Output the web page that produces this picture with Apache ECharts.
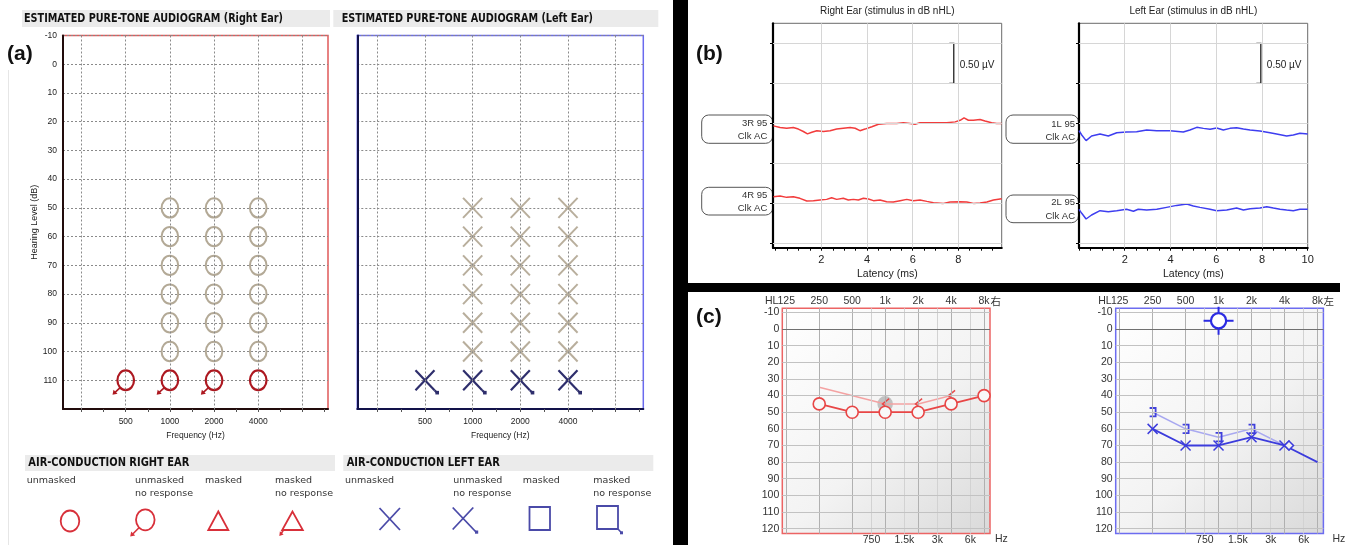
<!DOCTYPE html>
<html>
<head>
<meta charset="utf-8">
<title>Audiograms and ABR</title>
<script src="https://cdn.jsdelivr.net/npm/echarts@6.0.0/dist/echarts.min.js"></script>
<style>
html, body { margin:0; padding:0; background:#fff; }
#chart { width:1348px; height:545px; }
</style>
</head>
<body>
<div id="chart"></div>
<script>
// ================= DATA =================
// (a) Estimated pure-tone audiogram
const aGridFreqs = [250, 500, 1000, 2000, 4000, 8000];
const aTickFreqs = [500, 1000, 2000, 4000];
const aTickLabels = ['500', '1000', '2000', '4000'];
const aAxisTickOct = [0, 0.5, 1, 1.5, 2, 2.5, 3, 3.5, 4, 4.5, 5, 5.5];
const aEstFreqsR = [1000, 2000, 4000];
const aEstLevelsR = [50, 60, 70, 80, 90, 100];
const aEstFreqsL = [1000, 2000, 4000];
const aEstLevelsL = [50, 60, 70, 80, 90, 100];
const aNRFreqsR = [500, 1000, 2000, 4000];
const aNRLevelsR = [110, 110, 110, 110];
const aNRArrowR = [1, 1, 1, 0];
const aNRFreqsL = [500, 1000, 2000, 4000];
const aNRLevelsL = [110, 110, 110, 110];
const aNRArrowL = [1, 1, 1, 1];

// (b) ABR traces (latency ms, amplitude µV as displayed)
const r3Lat = [-0.10,0.19,0.48,0.77,0.99,1.21,1.39,1.58,1.80,2.09,2.38,2.67,2.96,3.26,3.48,3.69,3.91,4.21,4.50,4.86,5.30,5.59,5.89,6.10,6.32,6.69,7.05,7.49,7.86,8.08,8.25,8.44,8.66,8.95,9.17,9.46,9.68,9.90];
const r3Amp = [1.47,1.45,1.44,1.45,1.43,1.40,1.37,1.39,1.41,1.40,1.41,1.43,1.44,1.45,1.44,1.41,1.43,1.46,1.49,1.50,1.50,1.51,1.50,1.49,1.51,1.51,1.51,1.51,1.52,1.54,1.57,1.54,1.54,1.55,1.53,1.51,1.50,1.50];
const r4Lat = [-0.10,0.19,0.48,0.77,1.06,1.36,1.65,1.94,2.23,2.45,2.67,2.96,3.18,3.40,3.62,3.84,4.06,4.28,4.57,4.86,5.15,5.45,5.74,6.03,6.32,6.62,6.91,7.35,7.64,8.08,8.37,8.66,8.95,9.25,9.54,9.90];
const r4Amp = [0.587,0.595,0.578,0.587,0.566,0.533,0.537,0.545,0.553,0.574,0.553,0.566,0.545,0.553,0.545,0.566,0.558,0.537,0.545,0.524,0.520,0.537,0.553,0.537,0.545,0.528,0.512,0.503,0.520,0.524,0.520,0.503,0.508,0.520,0.545,0.562];
const l1Lat = [0.00,0.12,0.31,0.55,0.92,1.28,1.65,2.08,2.52,2.96,3.40,3.98,4.56,4.85,5.15,5.44,5.73,6.02,6.31,6.60,6.89,7.19,7.48,7.91,8.35,8.64,9.08,9.37,9.66,10.00];
const l1Amp = [1.410,1.356,1.286,1.344,1.369,1.344,1.385,1.394,1.398,1.419,1.410,1.410,1.394,1.419,1.452,1.439,1.427,1.444,1.419,1.439,1.448,1.431,1.419,1.406,1.385,1.369,1.344,1.356,1.377,1.369];
const l2Lat = [0.00,0.12,0.31,0.55,0.92,1.28,1.65,2.08,2.38,2.59,2.96,3.40,3.83,4.27,4.71,5.00,5.29,5.73,6.02,6.46,6.89,7.19,7.48,7.91,8.21,8.50,8.79,9.08,9.37,9.66,10.00];
const l2Amp = [0.429,0.379,0.308,0.358,0.412,0.399,0.412,0.429,0.404,0.429,0.420,0.429,0.453,0.478,0.495,0.470,0.453,0.429,0.412,0.420,0.445,0.420,0.437,0.445,0.462,0.445,0.429,0.420,0.412,0.429,0.429];
const bTraceNames = ['3R 95', '4R 95', '1L 95', '2L 95'];
const bStimulus = 'Clk AC';
const bGridY = [0, 0.5, 1.0, 1.5, 2.0, 2.5];
const bGridX = [2, 4, 6, 8];
const bLabelsR = [2, 4, 6, 8];
const bLabelsL = [2, 4, 6, 8, 10];
const bTicksR = [0,0.5,1,1.5,2,2.5,3,3.5,4,4.5,5,5.5,6,6.5,7,7.5,8,8.5,9,9.5];
const bTicksL = [0,0.5,1,1.5,2,2.5,3,3.5,4,4.5,5,5.5,6,6.5,7,7.5,8,8.5,9,9.5,10];
const bScaleR = [[7.8, 2.0, 2.5]];
const bScaleL = [[7.95, 2.0, 2.5]];
const bScaleText = '0.50 µV';

// (c) Audiometer
const cGridOct = [125, 250, 500, 1000, 2000, 4000, 8000];
const cGridHalf = [750, 1500, 3000, 6000];
const cGridLevels = [-10, 10, 20, 30, 40, 50, 60, 70, 80, 90, 100, 110, 120];
const cZeroLevel = [0];
const cLevelTicks = [-10, 0, 10, 20, 30, 40, 50, 60, 70, 80, 90, 100, 110, 120];
const cTopFreqs = [125, 250, 500, 1000, 2000, 4000, 8000];
const cTopLabels = ['125', '250', '500', '1k', '2k', '4k', '8k'];
const cBotFreqs = [750, 1500, 3000, 6000];
const cBotLabels = ['750', '1.5k', '3k', '6k'];
const cACFreqsR = [250, 500, 1000, 2000, 4000, 8000];
const cACLevelsR = [45, 50, 50, 50, 45, 40];
const cBCFreqsR = [250, 1000, 2000, 4000];
const cBCLevelsR = [35, 45, 45, 40];
const cBCMarkR = [0, 1, 1, 1];
const cHighlightR = [[1000, 45]];
const cACFreqsL = [250, 500, 1000, 2000, 4000, 8000];
const cACLevelsL = [60, 70, 70, 65, 70, 80];
const cACMarkL = [1, 1, 1, 1, 1, 0];
const cMBCFreqsL = [250, 500, 1000, 2000, 4000];
const cMBCLevelsL = [50, 60, 65, 60, 70];
const cMBCMarkL = [1, 1, 1, 1, 0];
const cDiamondL = [[4000, 70]];
const cSoundFieldL = [[1000, -5]];

// ================= HELPERS =================
const octA = f => Math.log2(f / 250);
const octC = f => Math.log2(f / 125);
const LIB = '"Liberation Sans", Arial, sans-serif';
const DJV = '"DejaVu Sans", Verdana, sans-serif';
const CJK = '"Noto Sans CJK JP", sans-serif';

function gridLineSeries(xi, yi, items, z) {
  return { type: 'line', xAxisIndex: xi, yAxisIndex: yi, data: [], silent: true, z: z || 1,
    markLine: { silent: true, symbol: ['none', 'none'], label: { show: false }, animation: false,
      emphasis: { disabled: true }, data: items } };
}
function ellipseMark(color, lw, rx, ry) {
  return function (params, api) {
    const p = api.coord([api.value(0), api.value(1)]);
    const kids = [{ type: 'ellipse', shape: { cx: p[0], cy: p[1], rx: rx, ry: ry }, style: { fill: 'none', stroke: color, lineWidth: lw } }];
    if (api.value(2)) {
      const tx = p[0] - 13.2, ty = p[1] + 14.6;
      kids.push({ type: 'line', shape: { x1: p[0] - 5.8, y1: p[1] + 7.6, x2: tx + 2.5, y2: ty - 2.5 }, style: { stroke: color, lineWidth: 1.6 } });
      kids.push({ type: 'polygon', shape: { points: [[tx, ty], [tx + 1.0, ty - 5.0], [tx + 5.0, ty - 1.0]] }, style: { fill: color } });
    }
    return { type: 'group', children: kids };
  };
}
function xMark(color, lw, hw, hh) {
  return function (params, api) {
    const p = api.coord([api.value(0), api.value(1)]);
    const kids = [
      { type: 'line', shape: { x1: p[0] - hw, y1: p[1] - hh, x2: p[0] + hw, y2: p[1] + hh }, style: { stroke: color, lineWidth: lw } },
      { type: 'line', shape: { x1: p[0] + hw, y1: p[1] - hh, x2: p[0] - hw, y2: p[1] + hh }, style: { stroke: color, lineWidth: lw } }
    ];
    if (api.value(2)) {
      kids.push({ type: 'line', shape: { x1: p[0] + hw, y1: p[1] + hh, x2: p[0] + 12, y2: p[1] + 12.3 }, style: { stroke: color, lineWidth: lw } });
      kids.push({ type: 'rect', shape: { x: p[0] + 10.4, y: p[1] + 10.6, width: 3.6, height: 3.6 }, style: { fill: color } });
    }
    return { type: 'group', children: kids };
  };
}
function scaleBar(params, api) {
  const t = api.coord([api.value(0), api.value(2)]);
  const b = api.coord([api.value(0), api.value(1)]);
  return { type: 'group', children: [
    { type: 'polyline', shape: { points: [[t[0] - 4.5, t[1]], [t[0], t[1]], [b[0], b[1]], [b[0] - 4.5, b[1]]] }, style: { fill: 'none', stroke: '#222', lineWidth: 1.3 } },
    { type: 'text', x: t[0] + 6, y: (t[1] + b[1]) / 2 + 2, style: { text: bScaleText, fill: '#222', font: '10px ' + LIB, align: 'left', verticalAlign: 'middle' } }
  ] };
}
function ltMark(color) {
  return function (params, api) {
    if (!api.value(2)) return { type: 'group', children: [] };
    const p = api.coord([api.value(0), api.value(1)]);
    return { type: 'polyline', shape: { points: [[p[0] + 4, p[1] - 5.2], [p[0] - 2.6, p[1]], [p[0] + 4, p[1] + 5.2]] }, style: { fill: 'none', stroke: color, lineWidth: 1.5 } };
  };
}
function bracketMark(color) {
  return function (params, api) {
    if (!api.value(2)) return { type: 'group', children: [] };
    const p = api.coord([api.value(0), api.value(1)]);
    return { type: 'polyline', shape: { points: [[p[0] - 3, p[1] - 4.2], [p[0] + 3, p[1] - 4.2], [p[0] + 3, p[1] + 4.2], [p[0] - 3, p[1] + 4.2]] }, style: { fill: 'none', stroke: color, lineWidth: 1.8 } };
  };
}
function smallX(color) {
  return function (params, api) {
    if (!api.value(2)) return { type: 'group', children: [] };
    const p = api.coord([api.value(0), api.value(1)]);
    const h = 5;
    return { type: 'group', children: [
      { type: 'line', shape: { x1: p[0] - h, y1: p[1] - h, x2: p[0] + h, y2: p[1] + h }, style: { stroke: color, lineWidth: 1.5 } },
      { type: 'line', shape: { x1: p[0] + h, y1: p[1] - h, x2: p[0] - h, y2: p[1] + h }, style: { stroke: color, lineWidth: 1.5 } }
    ] };
  };
}
function diamondMark(params, api) {
  const p = api.coord([api.value(0), api.value(1)]);
  const cx = p[0] + 4.5, cy = p[1];
  return { type: 'polygon', shape: { points: [[cx, cy - 4.5], [cx + 4.5, cy], [cx, cy + 4.5], [cx - 4.5, cy]] }, style: { fill: '#f2f2f2', stroke: '#3c3cdc', lineWidth: 1.5 } };
}
function crossCircle(params, api) {
  const p = api.coord([api.value(0), api.value(1)]);
  const c = '#2b2be2', s = { stroke: c, lineWidth: 2 };
  return { type: 'group', children: [
    { type: 'circle', shape: { cx: p[0], cy: p[1], r: 7.6 }, style: { fill: '#ffffff', stroke: c, lineWidth: 2.2 } },
    { type: 'line', shape: { x1: p[0], y1: p[1] - 7.6, x2: p[0], y2: p[1] - 14 }, style: s },
    { type: 'line', shape: { x1: p[0], y1: p[1] + 7.6, x2: p[0], y2: p[1] + 14 }, style: s },
    { type: 'line', shape: { x1: p[0] - 7.6, y1: p[1], x2: p[0] - 15, y2: p[1] }, style: s },
    { type: 'line', shape: { x1: p[0] + 7.6, y1: p[1], x2: p[0] + 15, y2: p[1] }, style: s }
  ] };
}
function grayDot(params, api) {
  const p = api.coord([api.value(0), api.value(1)]);
  return { type: 'circle', shape: { cx: p[0], cy: p[1], r: 7.8 }, style: { fill: 'rgba(165,165,165,0.65)' } };
}
function labelFrom(freqs, labels, conv) {
  return function (v) {
    const i = freqs.findIndex(f => Math.abs(conv(f) - v) < 1e-6);
    return i >= 0 ? labels[i] : '';
  };
}

// ================= AXES =================
const aX = (gi, lineColor) => ({
  gridIndex: gi, type: 'value', min: -0.42, max: 5.58,
  axisLine: { show: true, onZero: false, lineStyle: { color: lineColor, width: 2 } },
  axisTick: { show: true, customValues: aAxisTickOct, length: 3, lineStyle: { color: '#555', width: 1 } },
  axisLabel: { show: true, customValues: aTickFreqs.map(octA), formatter: labelFrom(aTickFreqs, aTickLabels, octA), margin: 8, fontSize: 8.5, color: '#222', fontFamily: LIB },
  splitLine: { show: false },
  name: 'Frequency (Hz)', nameLocation: 'middle', nameGap: 21, nameTextStyle: { fontSize: 8.5, color: '#222', fontFamily: LIB }
});
const aY = (gi, lineColor, showLabels) => ({
  gridIndex: gi, type: 'value', min: -10, max: 120, interval: 10, inverse: true,
  axisLine: { show: true, onZero: false, lineStyle: { color: lineColor, width: 2 } },
  axisTick: { show: false },
  axisLabel: { show: showLabels, formatter: v => (v === 120 ? '' : String(v)), margin: 6, fontSize: 8.5, color: '#222', fontFamily: LIB },
  splitLine: { show: true, lineStyle: { color: '#8a8a8a', type: [2, 2], width: 1 } },
  name: showLabels ? 'Hearing Level (dB)' : '', nameLocation: 'middle', nameGap: 17, nameRotate: 90,
  nameTextStyle: { fontSize: 9, color: '#222', fontFamily: LIB }
});
const bX = (gi, min, max, labels, ticks) => ({
  gridIndex: gi, type: 'value', min: min, max: max,
  axisLine: { show: true, onZero: false, lineStyle: { color: '#000', width: 2.2 } },
  axisTick: { show: true, customValues: ticks, length: 3, lineStyle: { color: '#000', width: 1 } },
  axisLabel: { show: true, customValues: labels, margin: 7, fontSize: 11, color: '#222', fontFamily: LIB },
  splitLine: { show: false },
  name: 'Latency (ms)', nameLocation: 'middle', nameGap: 21, nameTextStyle: { fontSize: 10.5, color: '#222', fontFamily: LIB }
});
const bY = gi => ({
  gridIndex: gi, type: 'value', min: -0.05, max: 2.75,
  axisLine: { show: true, onZero: false, lineStyle: { color: '#000', width: 2.2 } },
  axisTick: { show: true, customValues: bGridY, length: 3, lineStyle: { color: '#000', width: 1 } },
  axisLabel: { show: false }, splitLine: { show: false }
});
const cXBottom = gi => ({
  gridIndex: gi, type: 'value', min: -0.12, max: 6.18, position: 'bottom',
  axisLine: { show: false, onZero: false }, axisTick: { show: false }, splitLine: { show: false },
  axisLabel: { show: true, customValues: cBotFreqs.map(octC), formatter: labelFrom(cBotFreqs, cBotLabels, octC), margin: 1, fontSize: 10.5, color: '#333', fontFamily: LIB }
});
const cXTop = gi => ({
  gridIndex: gi, type: 'value', min: -0.12, max: 6.18, position: 'top',
  axisLine: { show: false, onZero: false }, axisTick: { show: false }, splitLine: { show: false },
  axisLabel: { show: true, customValues: cTopFreqs.map(octC), formatter: labelFrom(cTopFreqs, cTopLabels, octC), margin: 2, fontSize: 10.5, color: '#333', fontFamily: LIB }
});
const cY = gi => ({
  gridIndex: gi, type: 'value', min: -12.5, max: 123, inverse: true,
  axisLine: { show: false, onZero: false }, axisTick: { show: false }, splitLine: { show: false },
  axisLabel: { show: true, customValues: cLevelTicks, margin: 3, fontSize: 10.5, color: '#333', fontFamily: LIB }
});

const cBg = { type: 'linear', x: 0, y: 0, x2: 1, y2: 1, colorStops: [{ offset: 0, color: '#ffffff' }, { offset: 0.55, color: '#f3f3f3' }, { offset: 1, color: '#d9d9d9' }] };

// ================= GRAPHICS (static frame / annotations) =================
const RED = '#d8303a', BLUE = '#4a4aa8';
const graphics = [];
function T(x, y, text, font, fill, align, extra) {
  graphics.push(Object.assign({ type: 'text', x: x, y: y, silent: true, style: { text: text, font: font, fill: fill || '#222', align: align || 'left', verticalAlign: 'middle' } }, extra || {}));
}
function G(el) { el.silent = true; graphics.push(el); }
// separators
G({ type: 'rect', shape: { x: 673, y: 0, width: 15, height: 545 }, style: { fill: '#000' } });
G({ type: 'rect', shape: { x: 688, y: 283, width: 652, height: 9 }, style: { fill: '#000' } });
G({ type: 'rect', shape: { x: 8, y: 70, width: 1, height: 475 }, style: { fill: '#e6e6e6' } });
// panel letters
T(7, 54, '(a)', 'bold 21px ' + LIB, '#111');
T(696, 54, '(b)', 'bold 21px ' + LIB, '#111');
T(696, 317, '(c)', 'bold 21px ' + LIB, '#111');
// (a) title bars
G({ type: 'rect', shape: { x: 22, y: 10, width: 308, height: 17 }, style: { fill: '#ebebeb' } });
G({ type: 'rect', shape: { x: 333.3, y: 10, width: 325, height: 17 }, style: { fill: '#ebebeb' } });
T(24, 18.7, 'ESTIMATED PURE-TONE AUDIOGRAM (Right Ear)', 'bold 11.5px ' + DJV, '#111', 'left', { scaleX: 0.84 });
T(341.7, 18.7, 'ESTIMATED PURE-TONE AUDIOGRAM (Left Ear)', 'bold 11.5px ' + DJV, '#111', 'left', { scaleX: 0.84 });
// legend bars
G({ type: 'rect', shape: { x: 25, y: 455, width: 310, height: 16 }, style: { fill: '#ebebeb' } });
G({ type: 'rect', shape: { x: 343.3, y: 455, width: 310, height: 16 }, style: { fill: '#ebebeb' } });
T(28.3, 463.5, 'AIR-CONDUCTION RIGHT EAR', 'bold 11.5px ' + DJV, '#111', 'left', { scaleX: 0.86 });
T(346.7, 463.5, 'AIR-CONDUCTION LEFT EAR', 'bold 11.5px ' + DJV, '#111', 'left', { scaleX: 0.86 });
const LF = '9.5px ' + DJV;
T(26.7, 480.5, 'unmasked', LF, '#333'); T(135, 480.5, 'unmasked', LF, '#333'); T(135, 493.8, 'no response', LF, '#333');
T(205, 480.5, 'masked', LF, '#333'); T(275, 480.5, 'masked', LF, '#333'); T(275, 493.8, 'no response', LF, '#333');
T(345, 480.5, 'unmasked', LF, '#333'); T(453.3, 480.5, 'unmasked', LF, '#333'); T(453.3, 493.8, 'no response', LF, '#333');
T(522.7, 480.5, 'masked', LF, '#333'); T(593.3, 480.5, 'masked', LF, '#333'); T(593.3, 493.8, 'no response', LF, '#333');
// legend symbols (right ear, red)
const rs = { fill: 'none', stroke: RED, lineWidth: 1.8 };
G({ type: 'ellipse', shape: { cx: 70, cy: 521, rx: 9.3, ry: 10.5 }, style: rs });
G({ type: 'ellipse', shape: { cx: 145.3, cy: 519.8, rx: 9.3, ry: 10.5 }, style: rs });
G({ type: 'line', shape: { x1: 139, y1: 527.8, x2: 133, y2: 533.8 }, style: { stroke: RED, lineWidth: 1.6 } });
G({ type: 'polygon', shape: { points: [[130.2, 536.6], [131.2, 531.6], [135.2, 535.6]] }, style: { fill: RED } });
G({ type: 'polygon', shape: { points: [[218.3, 511.5], [208.3, 530], [228.3, 530]] }, style: rs });
G({ type: 'polygon', shape: { points: [[292.5, 511.5], [282.2, 530], [302.8, 530]] }, style: rs });
G({ type: 'line', shape: { x1: 283.5, y1: 530, x2: 281.3, y2: 533.4 }, style: { stroke: RED, lineWidth: 1.6 } });
G({ type: 'polygon', shape: { points: [[279.3, 536], [279.9, 531.3], [283.6, 534.4]] }, style: { fill: RED } });
// legend symbols (left ear, blue)
const bs = { stroke: BLUE, lineWidth: 1.8 };
G({ type: 'line', shape: { x1: 379.5, y1: 508, x2: 400, y2: 530 }, style: bs });
G({ type: 'line', shape: { x1: 400, y1: 508, x2: 379.5, y2: 530 }, style: bs });
G({ type: 'line', shape: { x1: 452.7, y1: 507.5, x2: 476, y2: 532 }, style: bs });
G({ type: 'line', shape: { x1: 473.3, y1: 507.5, x2: 452.7, y2: 529.5 }, style: bs });
G({ type: 'rect', shape: { x: 475, y: 530.5, width: 3.2, height: 3.2 }, style: { fill: BLUE } });
G({ type: 'rect', shape: { x: 529.5, y: 507, width: 20.5, height: 23 }, style: { fill: 'none', stroke: BLUE, lineWidth: 1.8 } });
G({ type: 'rect', shape: { x: 597, y: 506, width: 21, height: 23 }, style: { fill: 'none', stroke: BLUE, lineWidth: 1.8 } });
G({ type: 'line', shape: { x1: 618, y1: 529, x2: 621, y2: 532.3 }, style: { stroke: BLUE, lineWidth: 1.5 } });
G({ type: 'rect', shape: { x: 620, y: 531.3, width: 3, height: 3 }, style: { fill: BLUE } });
// (b) titles
T(887.3, 11, 'Right Ear (stimulus in dB nHL)', '10px ' + LIB, '#222', 'center');
T(1193.3, 11, 'Left Ear (stimulus in dB nHL)', '10px ' + LIB, '#222', 'center');
// (b) trace label boxes
const boxStyle = { fill: '#ffffff', stroke: '#555', lineWidth: 1 };
G({ type: 'rect', shape: { x: 701.7, y: 115, width: 71, height: 28.3, r: 7 }, style: boxStyle });
G({ type: 'rect', shape: { x: 701.7, y: 187.3, width: 71, height: 27.7, r: 7 }, style: boxStyle });
G({ type: 'rect', shape: { x: 1006, y: 115, width: 72.5, height: 28.3, r: 7 }, style: boxStyle });
G({ type: 'rect', shape: { x: 1006, y: 195, width: 72.5, height: 27.7, r: 7 }, style: boxStyle });
const BF = '9.5px ' + LIB;
T(767.3, 123.3, bTraceNames[0], BF, '#333', 'right'); T(767.3, 136.7, bStimulus, BF, '#333', 'right');
T(767.3, 195.3, bTraceNames[1], BF, '#333', 'right'); T(767.3, 208.5, bStimulus, BF, '#333', 'right');
T(1075, 124, bTraceNames[2], BF, '#333', 'right'); T(1075, 137.3, bStimulus, BF, '#333', 'right');
T(1075, 202.7, bTraceNames[3], BF, '#333', 'right'); T(1075, 216, bStimulus, BF, '#333', 'right');
// (c) extra axis text
T(778.3, 300.7, 'HL', '10.5px ' + LIB, '#333', 'right');
T(1111.7, 300.7, 'HL', '10.5px ' + LIB, '#333', 'right');
T(990.5, 300.7, '右', '10.5px ' + CJK, '#333', 'left');
T(1323.5, 300.7, '左', '10.5px ' + CJK, '#333', 'left');
T(995, 539.3, 'Hz', '10.5px ' + LIB, '#333', 'left');
T(1332.5, 539.3, 'Hz', '10.5px ' + LIB, '#333', 'left');

// ================= SERIES =================
const dotted = { color: '#8a8a8a', type: [2, 2], width: 1 };
const bGridStyle = { color: '#d6d6d6', type: 'solid', width: 1 };
const cOctStyle = { color: '#b0b0b0', type: 'solid', width: 1 };
const cHalfStyle = { color: '#d2d2d2', type: 'solid', width: 1 };
const cHStyle = { color: '#c2c2c2', type: 'solid', width: 1 };
const cZeroStyle = { color: '#707070', type: 'solid', width: 1 };
function cGridItems() {
  return [].concat(
    cGridOct.map(f => ({ xAxis: octC(f), lineStyle: cOctStyle })),
    cGridHalf.map(f => ({ xAxis: octC(f), lineStyle: cHalfStyle })),
    cGridLevels.map(l => ({ yAxis: l, lineStyle: cHStyle })),
    cZeroLevel.map(l => ({ yAxis: l, lineStyle: cZeroStyle }))
  );
}
const zip = (xs, ys) => xs.map((x, i) => [x, ys[i]]);

const series = [
  // ---- (a) right ear ----
  gridLineSeries(0, 0, aGridFreqs.map(f => ({ xAxis: octA(f), lineStyle: dotted }))),
  { type: 'custom', xAxisIndex: 0, yAxisIndex: 0, z: 3, silent: true, renderItem: ellipseMark('#b3a996', 2, 8.3, 9.7),
    encode: { x: 0, y: 1 }, data: aEstFreqsR.flatMap(f => aEstLevelsR.map(l => [octA(f), l, 0])) },
  { type: 'custom', xAxisIndex: 0, yAxisIndex: 0, z: 4, silent: true, renderItem: ellipseMark('#ad1820', 2.2, 8.3, 9.8),
    encode: { x: 0, y: 1 }, data: aNRFreqsR.map((f, i) => [octA(f), aNRLevelsR[i], aNRArrowR[i]]) },
  // ---- (a) left ear ----
  gridLineSeries(1, 1, aGridFreqs.map(f => ({ xAxis: octA(f), lineStyle: dotted }))),
  { type: 'custom', xAxisIndex: 1, yAxisIndex: 1, z: 3, silent: true, renderItem: xMark('#b8ae9c', 2, 9.6, 10),
    encode: { x: 0, y: 1 }, data: aEstFreqsL.flatMap(f => aEstLevelsL.map(l => [octA(f), l, 0])) },
  { type: 'custom', xAxisIndex: 1, yAxisIndex: 1, z: 4, silent: true, renderItem: xMark('#2e2e6c', 2.2, 9.5, 10),
    encode: { x: 0, y: 1 }, data: aNRFreqsL.map((f, i) => [octA(f), aNRLevelsL[i], aNRArrowL[i]]) },
  // ---- (b) right ear ----
  gridLineSeries(2, 2, [].concat(bGridX.map(v => ({ xAxis: v, lineStyle: bGridStyle })), bGridY.map(v => ({ yAxis: v, lineStyle: bGridStyle })))),
  { type: 'line', xAxisIndex: 2, yAxisIndex: 2, z: 3, silent: true, symbol: 'none', showSymbol: false, data: zip(r3Lat, r3Amp), lineStyle: { color: '#f23c3c', width: 1.5 }, itemStyle: { color: '#f23c3c' } },
  { type: 'line', xAxisIndex: 2, yAxisIndex: 2, z: 3, silent: true, symbol: 'none', showSymbol: false, data: zip(r4Lat, r4Amp), lineStyle: { color: '#f23c3c', width: 1.5 }, itemStyle: { color: '#f23c3c' } },
  { type: 'custom', xAxisIndex: 2, yAxisIndex: 2, z: 4, silent: true, renderItem: scaleBar, encode: { x: 0, y: [1, 2] }, data: bScaleR },
  // ---- (b) left ear ----
  gridLineSeries(3, 3, [].concat(bGridX.map(v => ({ xAxis: v, lineStyle: bGridStyle })), bGridY.map(v => ({ yAxis: v, lineStyle: bGridStyle })))),
  { type: 'line', xAxisIndex: 3, yAxisIndex: 3, z: 3, silent: true, symbol: 'none', showSymbol: false, data: zip(l1Lat, l1Amp), lineStyle: { color: '#3e3ef0', width: 1.5 }, itemStyle: { color: '#3e3ef0' } },
  { type: 'line', xAxisIndex: 3, yAxisIndex: 3, z: 3, silent: true, symbol: 'none', showSymbol: false, data: zip(l2Lat, l2Amp), lineStyle: { color: '#3e3ef0', width: 1.5 }, itemStyle: { color: '#3e3ef0' } },
  { type: 'custom', xAxisIndex: 3, yAxisIndex: 3, z: 4, silent: true, renderItem: scaleBar, encode: { x: 0, y: [1, 2] }, data: bScaleL },
  // ---- (c) right ear ----
  gridLineSeries(4, 4, cGridItems()),
  { type: 'custom', xAxisIndex: 4, yAxisIndex: 4, z: 2, silent: true, renderItem: grayDot, encode: { x: 0, y: 1 }, data: cHighlightR.map(d => [octC(d[0]), d[1]]) },
  { type: 'line', xAxisIndex: 4, yAxisIndex: 4, z: 3, silent: true, symbol: 'none', showSymbol: false, data: cBCFreqsR.map((f, i) => [octC(f), cBCLevelsR[i]]), lineStyle: { color: '#f4a2a2', width: 1.5 }, itemStyle: { color: '#f4a2a2' } },
  { type: 'custom', xAxisIndex: 4, yAxisIndex: 4, z: 4, silent: true, renderItem: ltMark('#e64a4a'), encode: { x: 0, y: 1 }, data: cBCFreqsR.map((f, i) => [octC(f), cBCLevelsR[i], cBCMarkR[i]]) },
  { type: 'line', xAxisIndex: 4, yAxisIndex: 4, z: 5, silent: true, symbol: 'circle', symbolSize: 12, showSymbol: true,
    data: cACFreqsR.map((f, i) => [octC(f), cACLevelsR[i]]), lineStyle: { color: '#e84646', width: 1.8 },
    itemStyle: { color: '#f8f8f8', borderColor: '#e84646', borderWidth: 1.6 } },
  // ---- (c) left ear ----
  gridLineSeries(6, 5, cGridItems()),
  { type: 'line', xAxisIndex: 6, yAxisIndex: 5, z: 3, silent: true, symbol: 'none', showSymbol: false, data: cMBCFreqsL.map((f, i) => [octC(f), cMBCLevelsL[i]]), lineStyle: { color: '#a9a9f0', width: 1.5 }, itemStyle: { color: '#a9a9f0' } },
  { type: 'custom', xAxisIndex: 6, yAxisIndex: 5, z: 4, silent: true, renderItem: bracketMark('#4040dc'), encode: { x: 0, y: 1 }, data: cMBCFreqsL.map((f, i) => [octC(f), cMBCLevelsL[i], cMBCMarkL[i]]) },
  { type: 'line', xAxisIndex: 6, yAxisIndex: 5, z: 5, silent: true, symbol: 'none', showSymbol: false, data: cACFreqsL.map((f, i) => [octC(f), cACLevelsL[i]]), lineStyle: { color: '#3c3cdc', width: 1.8 }, itemStyle: { color: '#3c3cdc' } },
  { type: 'custom', xAxisIndex: 6, yAxisIndex: 5, z: 6, silent: true, renderItem: smallX('#3c3cdc'), encode: { x: 0, y: 1 }, data: cACFreqsL.map((f, i) => [octC(f), cACLevelsL[i], cACMarkL[i]]) },
  { type: 'custom', xAxisIndex: 6, yAxisIndex: 5, z: 7, silent: true, renderItem: diamondMark, encode: { x: 0, y: 1 }, data: cDiamondL.map(d => [octC(d[0]), d[1]]) },
  { type: 'custom', xAxisIndex: 6, yAxisIndex: 5, z: 7, silent: true, renderItem: crossCircle, encode: { x: 0, y: 1 }, data: cSoundFieldL.map(d => [octC(d[0]), d[1]]) }
];

const option = {
  animation: false,
  backgroundColor: '#ffffff',
  textStyle: { fontFamily: LIB },
  grid: [
    { left: 63, top: 35.5, width: 265, height: 373.5, show: true, borderColor: '#e05a5a', borderWidth: 1.5, backgroundColor: 'transparent', containLabel: false, outerBoundsMode: 'none' },
    { left: 357.3, top: 35.5, width: 286, height: 373.5, show: true, borderColor: '#6a6aee', borderWidth: 1.5, backgroundColor: 'transparent', containLabel: false, outerBoundsMode: 'none' },
    { left: 773, top: 23.3, width: 228.7, height: 224.4, show: true, borderColor: '#6b6b6b', borderWidth: 1, backgroundColor: 'transparent', containLabel: false, outerBoundsMode: 'none' },
    { left: 1079, top: 23.3, width: 228.7, height: 224.4, show: true, borderColor: '#6b6b6b', borderWidth: 1, backgroundColor: 'transparent', containLabel: false, outerBoundsMode: 'none' },
    { left: 782.3, top: 308.3, width: 207.7, height: 225.3, show: true, borderColor: '#ec6464', borderWidth: 1.5, backgroundColor: cBg, containLabel: false, outerBoundsMode: 'none' },
    { left: 1115.7, top: 308.3, width: 207.7, height: 225.3, show: true, borderColor: '#6c6cf0', borderWidth: 1.5, backgroundColor: cBg, containLabel: false, outerBoundsMode: 'none' }
  ],
  xAxis: [
    aX(0, '#220c0c'), aX(1, '#12124a'),
    bX(2, -0.12, 9.9, bLabelsR, bTicksR), bX(3, 0, 10, bLabelsL, bTicksL),
    cXBottom(4), cXTop(4), cXBottom(5), cXTop(5)
  ],
  yAxis: [
    aY(0, '#220c0c', true), aY(1, '#12124a', false),
    bY(2), bY(3),
    cY(4), cY(5)
  ],
  series: series,
  graphic: { elements: graphics }
};

const chart = echarts.init(document.getElementById('chart'), null, { renderer: 'canvas' });
chart.setOption(option);
</script>
</body>
</html>
